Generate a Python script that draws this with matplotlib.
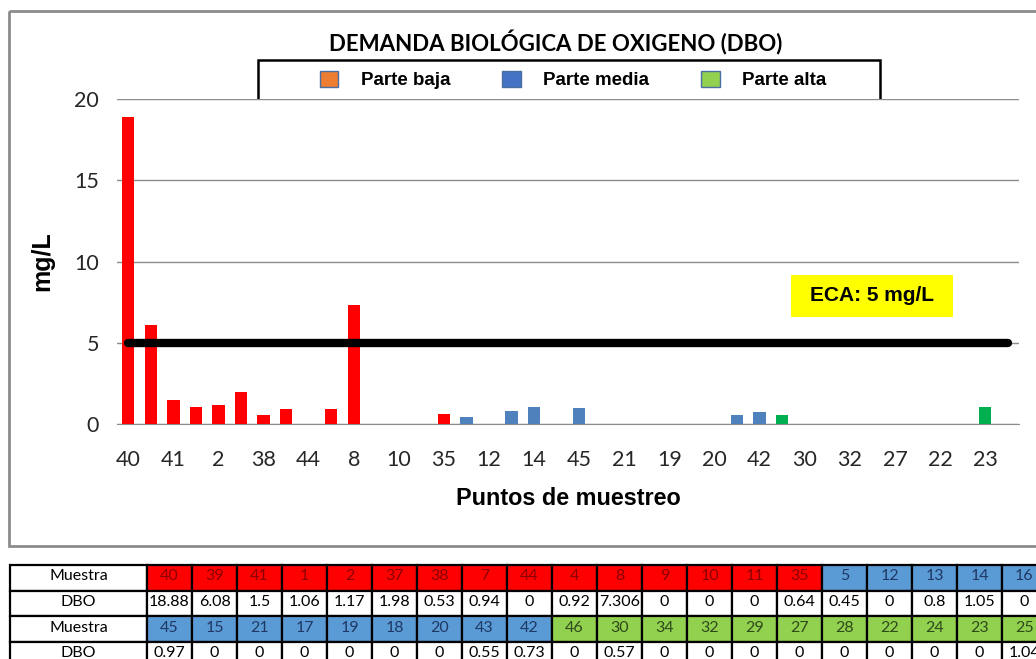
import numpy as np
import matplotlib.pyplot as plt
from matplotlib.patches import Rectangle, Patch

# puntos de muestreo en el orden del grafico / tabla
PUNTOS = [40, 39, 41, 1, 2, 37, 38, 7, 44, 4, 8, 9, 10, 11, 35, 5, 12, 13, 14, 16,
          45, 15, 21, 17, 19, 18, 20, 43, 42, 46, 30, 34, 32, 29, 27, 28, 22, 24, 23, 25]
ZONA = ['baja'] * 15 + ['media'] * 14 + ['alta'] * 11

# valores como se ven en las barras del grafico
DBO_GRAFICO = [18.88, 6.08, 1.5, 1.06, 1.17, 1.98, 0.53, 0.94, 0, 0.92,
               7.306, 0, 0, 0, 0.64, 0.45, 0, 0.8, 1.05, 0,
               0.97, 0, 0, 0, 0, 0, 0, 0.55, 0.73, 0.57,
               0, 0, 0, 0, 0, 0, 0, 0, 1.04, 0]

# tabla inferior
MUESTRA_1 = PUNTOS[:20]
DBO_1 = ['18.88', '6.08', '1.5', '1.06', '1.17', '1.98', '0.53', '0.94', '0', '0.92',
         '7.306', '0', '0', '0', '0.64', '0.45', '0', '0.8', '1.05', '0']
MUESTRA_2 = PUNTOS[20:]
DBO_2 = ['0.97', '0', '0', '0', '0', '0', '0', '0.55', '0.73', '0',
         '0.57', '0', '0', '0', '0', '0', '0', '0', '0', '1.04']

ECA = 5

BAR_COL = {'baja': '#FF0000', 'media': '#4F81BD', 'alta': '#00B050'}
CELL_COL = {'baja': '#FF0000', 'media': '#5B9BD5', 'alta': '#92D050'}
TXT_COL = {'baja': '#8B0000', 'media': '#1F3864', 'alta': '#2E4A1A'}
LEG_COL = ['#ED7D31', '#4472C4', '#92D050']
LEG_LAB = ['Parte baja', 'Parte media', 'Parte alta']

CALIBRI = ['Lato', 'DejaVu Sans']
ARIAL = ['Liberation Sans', 'DejaVu Sans']

W, H = 1036, 659
fig = plt.figure(figsize=(W / 100, H / 100), dpi=100)

# capa de fondo en pixeles: marco y tabla
bg = fig.add_axes([0, 0, 1, 1])
bg.set_xlim(0, W)
bg.set_ylim(H, 0)
bg.axis('off')
bg.add_patch(Rectangle((9, 11), 1040, 535, fill=False, edgecolor='#8C8C8C', lw=2))

# tabla
x0, y0, lab_w, col_w, row_h = 10, 565, 137, 45, 25.5
rows = [('Muestra', MUESTRA_1, True, ZONA[:20]),
        ('DBO', DBO_1, False, None),
        ('Muestra', MUESTRA_2, True, ZONA[20:]),
        ('DBO', DBO_2, False, None)]
for r, (lab, vals, colored, zonas) in enumerate(rows):
    y = y0 + r * row_h
    ty = y + 11.5
    bg.add_patch(Rectangle((x0, y), lab_w, row_h, facecolor='white', edgecolor='black', lw=1.6))
    bg.text(x0 + lab_w / 2, ty, lab, ha='center', va='center', fontsize=11.5, family=CALIBRI)
    for c, v in enumerate(vals):
        x = x0 + lab_w + c * col_w
        fc = CELL_COL[zonas[c]] if colored else 'white'
        tc = TXT_COL[zonas[c]] if colored else 'black'
        bg.add_patch(Rectangle((x, y), col_w, row_h, facecolor=fc, edgecolor='black', lw=1.6))
        bg.text(x + col_w / 2, ty, str(v), ha='center', va='center',
                fontsize=11.5, color=tc, family=CALIBRI)

# titulo y marco de la leyenda
bg.text(556, 43, 'DEMANDA BIOLÓGICA DE OXIGENO (DBO)', ha='center', va='center',
        fontsize=16, fontweight='bold', family=CALIBRI)
bg.add_patch(Rectangle((258, 60), 622, 40, fill=False, edgecolor='black', lw=1.8))

# grafico
ax = fig.add_axes([117 / W, 1 - 424 / H, 902 / W, 325 / H])
x = np.arange(len(PUNTOS))
ax.bar(x, DBO_GRAFICO, width=0.55, color=[BAR_COL[z] for z in ZONA], zorder=3)
ax.plot(x, [ECA] * len(x), color='black', lw=6, solid_capstyle='round', zorder=4)
ax.set_xlim(-0.5, len(PUNTOS) - 0.5)
ax.set_ylim(0, 20)
ax.set_yticks([0, 5, 10, 15, 20])
ax.set_xticks(x[::2])
ax.set_xticklabels(PUNTOS[::2])
ax.grid(axis='y', color='#8C8C8C', lw=1, zorder=0)
for s in ['top', 'right', 'left']:
    ax.spines[s].set_visible(False)
ax.spines['bottom'].set_color('#8C8C8C')
ax.tick_params(axis='both', length=0, labelsize=15.5, colors='#262626')
ax.tick_params(axis='x', pad=19)
ax.tick_params(axis='y', pad=13)
for t in ax.get_xticklabels() + ax.get_yticklabels():
    t.set_family(CALIBRI)
ax.set_xlabel('Puntos de muestreo', fontsize=16.8, fontweight='bold', family=ARIAL, labelpad=12)
ax.set_ylabel('mg/L', fontsize=18, fontweight='bold', family=ARIAL, labelpad=14)

# recuadro ECA
ax.add_patch(Rectangle((0.747, 0.329), 0.1796, 0.129, transform=ax.transAxes,
                       facecolor='#FFFF00', edgecolor='none', zorder=5))
ax.text(0.837, 0.394, 'ECA: 5 mg/L', transform=ax.transAxes, ha='center', va='center',
        fontsize=15, fontweight='bold', family=ARIAL, zorder=6)

handles = [Patch(facecolor=c, edgecolor='#4A6FA5', lw=1) for c in LEG_COL]
fig.legend(handles, LEG_LAB, loc='center', bbox_to_anchor=(573 / W, 1 - 80 / H), ncol=3,
           frameon=False, prop={'family': ARIAL, 'weight': 'bold', 'size': 13.5},
           handlelength=1.0, handleheight=1.0, handletextpad=1.2, columnspacing=2.75)

plt.savefig('out.png', dpi=100)
